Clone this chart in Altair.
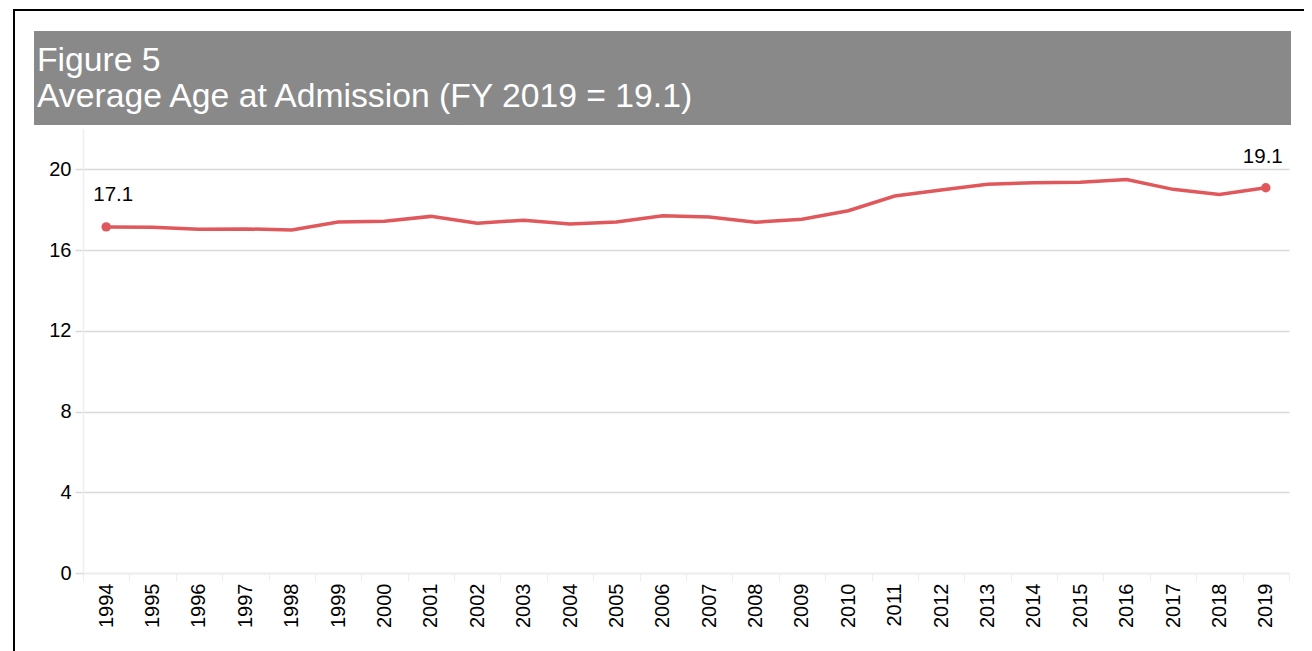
import altair as alt
import pandas as pd

years = ["1994", "1995", "1996", "1997", "1998", "1999", "2000", "2001", "2002",
         "2003", "2004", "2005", "2006", "2007", "2008", "2009", "2010", "2011",
         "2012", "2013", "2014", "2015", "2016", "2017", "2018", "2019"]
ages = [17.15, 17.13, 17.03, 17.05, 17.00, 17.39, 17.43, 17.67, 17.33, 17.48,
        17.29, 17.39, 17.70, 17.64, 17.38, 17.53, 17.95, 18.68, 18.98, 19.26,
        19.34, 19.36, 19.50, 19.01, 18.76, 19.09]
end_years = ["1994", "2019"]
end_labels = ["17.1", "19.1"]
y_ticks = [0, 4, 8, 12, 16, 20]
title_line1 = "Figure 5"
title_line2 = "Average Age at Admission (FY 2019 = 19.1)"

FONT = "Liberation Sans"
LINE_COLOR = "#e0585c"

df = pd.DataFrame({"year": years, "age": ages})
ends = df[df["year"].isin(end_years)].copy()
ends["label"] = end_labels

one = pd.DataFrame({"k": [0]})

x_enc = alt.X(
    "year:O",
    sort=years,
    scale=alt.Scale(type="band", paddingInner=0, paddingOuter=0),
    axis=alt.Axis(
        title=None, labelAngle=-90, labelFontSize=20, labelFont=FONT,
        labelColor="#000000", tickBand="extent", tickColor="#eeeeee",
        tickSize=8, domainColor="#eeeeee", domainWidth=1.5, labelPadding=2,
        grid=False,
    ),
)
y_enc = alt.Y(
    "age:Q",
    scale=alt.Scale(domain=[0, 22], nice=False),
    axis=alt.Axis(
        title=None, values=y_ticks, labelFontSize=20, labelFont=FONT,
        labelColor="#000000", tickColor="#d9d9d9", tickSize=8, tickWidth=1.5,
        labelPadding=4, gridColor="#d9d9d9", gridWidth=1.5,
        domainColor="#eeeeee", domainWidth=1.5,
    ),
)

frame = alt.Chart(one).mark_rect(
    fillOpacity=0, stroke="#000000", strokeWidth=2
).encode(
    x=alt.value(-69), x2=alt.value(1224), y=alt.value(-119), y2=alt.value(560)
)

box = alt.Chart(one).mark_rect(color="#898989").encode(
    x=alt.value(-49), x2=alt.value(1208), y=alt.value(-98), y2=alt.value(-4)
)

t1 = alt.Chart(one).mark_text(
    align="left", baseline="alphabetic", fontSize=33.7, font=FONT, color="#ffffff"
).encode(x=alt.value(-46), y=alt.value(-58), text=alt.value(title_line1))

t2 = alt.Chart(one).mark_text(
    align="left", baseline="alphabetic", fontSize=33.7, font=FONT, color="#ffffff"
).encode(x=alt.value(-46), y=alt.value(-22), text=alt.value(title_line2))

line = alt.Chart(df).mark_line(
    color=LINE_COLOR, strokeWidth=3.5
).encode(x=x_enc, y=y_enc)

pts = alt.Chart(ends).mark_circle(
    color=LINE_COLOR, size=90, opacity=1
).encode(x=x_enc, y=y_enc)

lab_first = alt.Chart(ends).transform_filter(
    alt.datum.year == end_years[0]
).mark_text(
    fontSize=20.5, font=FONT, color="#000000", baseline="alphabetic",
    align="center", dx=7, dy=-26
).encode(x=x_enc, y=y_enc, text="label:N")

lab_last = alt.Chart(ends).transform_filter(
    alt.datum.year == end_years[1]
).mark_text(
    fontSize=20.5, font=FONT, color="#000000", baseline="alphabetic",
    align="center", dx=-3, dy=-25
).encode(x=x_enc, y=y_enc, text="label:N")

chart = alt.layer(
    frame, box, t1, t2, line, pts, lab_first, lab_last
).properties(
    width=1206,
    height=444,
    autosize=alt.AutoSizeParams(type="none"),
    padding={"left": 75, "top": 121, "right": 15, "bottom": 78},
    background="#ffffff",
).configure_view(strokeWidth=0)

chart.save("out.html", embed_options={"renderer": "svg", "actions": False})
